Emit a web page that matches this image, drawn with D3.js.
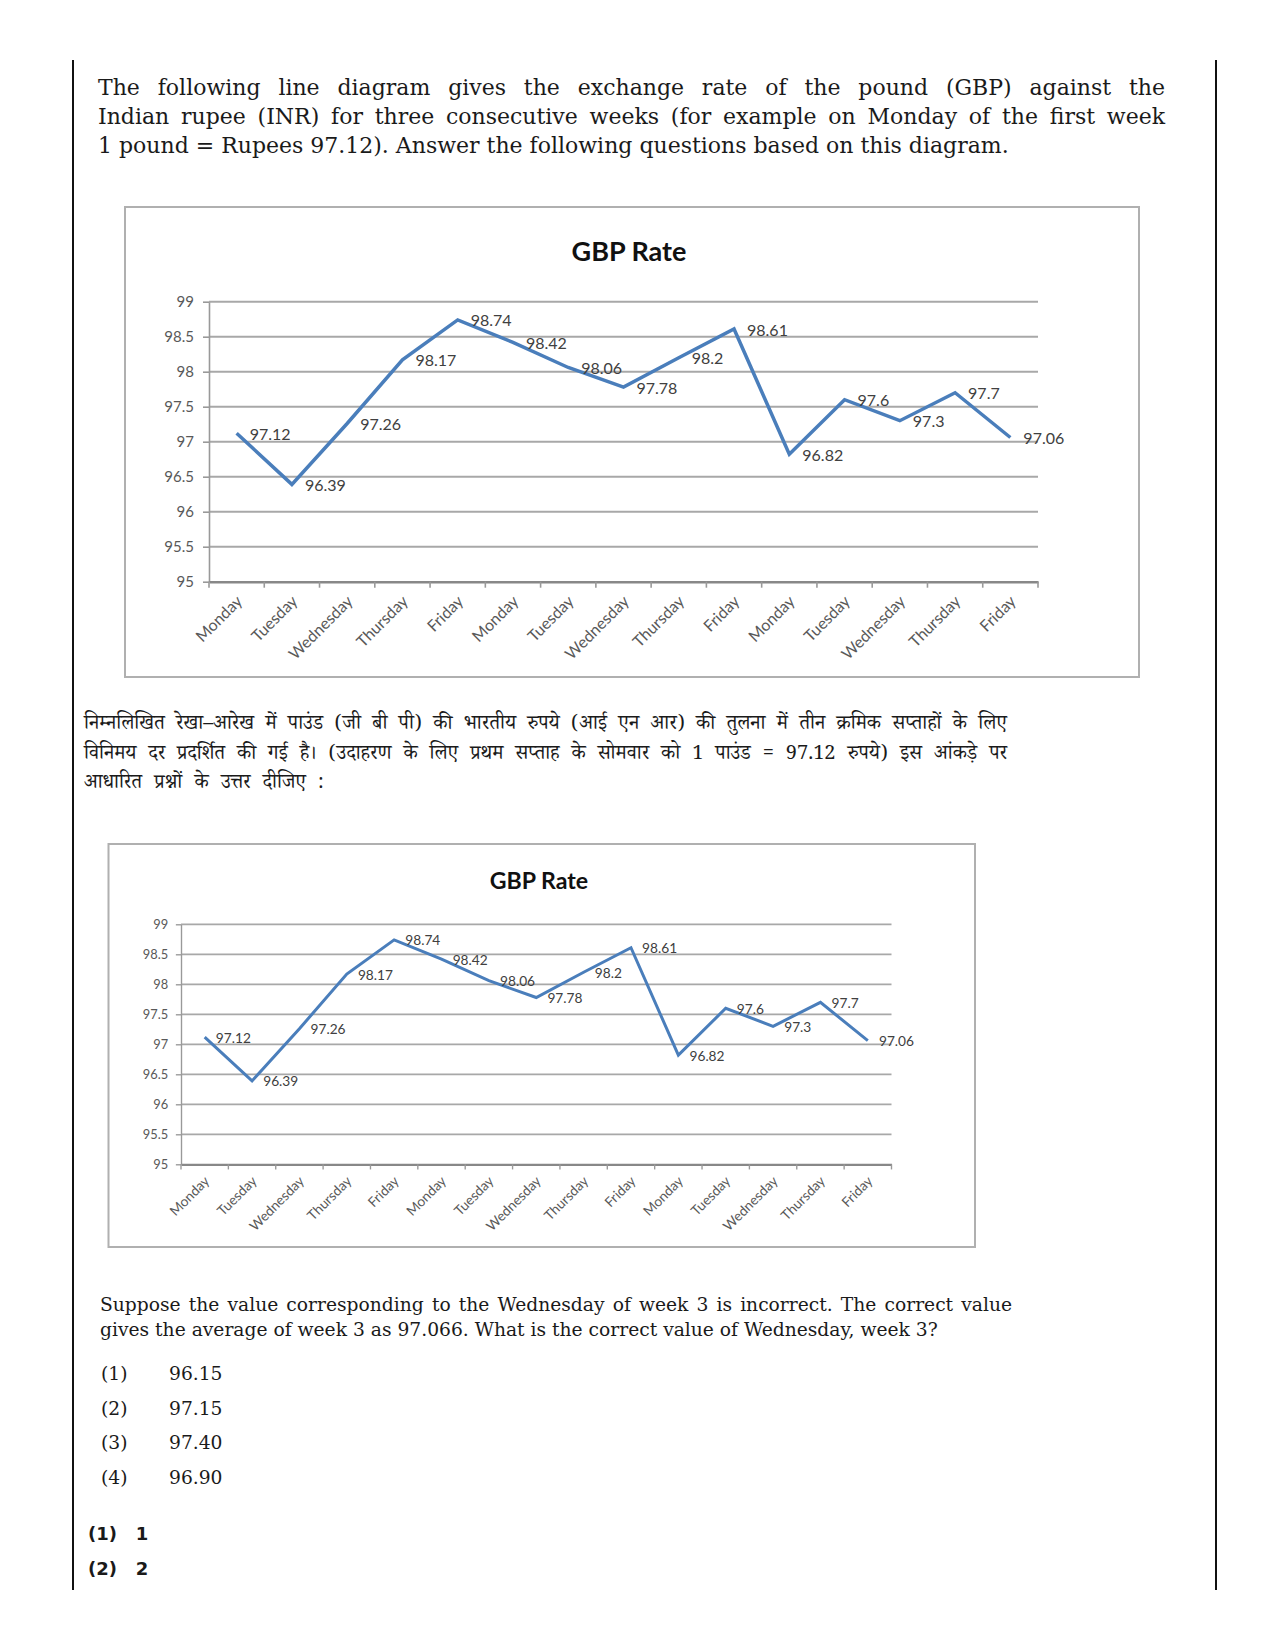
<!DOCTYPE html>
<html><head><meta charset="utf-8">
<script src="https://cdn.jsdelivr.net/npm/d3@7/dist/d3.min.js"></script>
<style>
body{margin:0;background:#fff;}
#page{position:relative;width:1275px;height:1651px;overflow:hidden;background:#fff;}
#page svg{position:absolute;left:0;top:0;}
.vline{position:absolute;width:1.5px;background:#111;}
.ln{position:absolute;white-space:nowrap;color:#1a1a1a;}
.j{text-align:justify;text-align-last:justify;}
.serif{font-family:"DejaVu Serif","Liberation Serif",serif;}
.hindi{font-family:"Noto Serif Devanagari","Noto Sans Devanagari","Lohit Devanagari","FreeSerif","Noto Sans",sans-serif;}
.wide{word-spacing:7px;}
.ans{font-family:"DejaVu Sans",sans-serif;font-weight:bold;}
</style>
</head><body><div id="page"></div>
<script>
// ---------- data ----------
const categories = ["Monday","Tuesday","Wednesday","Thursday","Friday",
                    "Monday","Tuesday","Wednesday","Thursday","Friday",
                    "Monday","Tuesday","Wednesday","Thursday","Friday"];
const values = [97.12, 96.39, 97.26, 98.17, 98.74,
                98.42, 98.06, 97.78, 98.2, 98.61,
                96.82, 97.6, 97.3, 97.7, 97.06];
const yTicks = [95, 95.5, 96, 96.5, 97, 97.5, 98, 98.5, 99];
const chartTitle = "GBP Rate";

const introLines = [
  "The following line diagram gives the exchange rate of the pound (GBP) against the",
  "Indian rupee (INR) for three consecutive weeks (for example on Monday of the first week",
  "1 pound = Rupees 97.12). Answer the following questions based on this diagram."
];
const hindiLines = [
  "निम्नलिखित रेखा–आरेख में पाउंड (जी बी पी) की भारतीय रुपये (आई एन आर) की तुलना में तीन क्रमिक सप्ताहों के लिए",
  "विनिमय दर प्रदर्शित की गई है। (उदाहरण के लिए प्रथम सप्ताह के सोमवार को 1 पाउंड = 97.12 रुपये) इस आंकड़े पर",
  "आधारित प्रश्नों के उत्तर दीजिए :"
];
const questionLines = [
  "Suppose the value corresponding to the Wednesday of week 3 is incorrect. The correct value",
  "gives the average of week 3 as 97.066. What is the correct value of Wednesday, week 3?"
];
const optionLabels = ["(1)","(2)","(3)","(4)"];
const optionValues = ["96.15","97.15","97.40","96.90"];
const answerLabels = ["(1)","(2)"];
const answerValues = ["1","2"];

// ---------- page ----------
const page = d3.select("#page");
[[72,60,1530],[1215,60,1530]].forEach(([x,y,h])=>{
  page.append("div").attr("class","vline").style("left",x+"px").style("top",y+"px").style("height",h+"px");
});

function addLines(lines, opts){
  lines.forEach((t,i)=>{
    const justify = i < lines.length-1;
    const d = page.append("div").attr("class","ln "+opts.cls+(justify?" j":(opts.lastCls||"")))
      .style("left",opts.x+"px").style("top",(opts.y0+i*opts.dy - opts.lh/2)+"px")
      .style("font-size",opts.fs+"px").style("line-height",opts.lh+"px")
      .text(t);
    if(justify) d.style("width",opts.w+"px").style("white-space","normal");
  });
}
addLines(introLines,{cls:"serif",x:98,y0:88,dy:29.2,fs:22,lh:26,w:1067});
addLines(hindiLines,{cls:"hindi",x:84,y0:726,dy:29.5,fs:20,lh:26,w:923,lastCls:" wide"});
addLines(questionLines,{cls:"serif",x:100,y0:1304,dy:25.5,fs:18.7,lh:23,w:912});

optionLabels.forEach((l,i)=>{
  const y = 1374 + i*34.7 - 12;
  page.append("div").attr("class","ln serif").style("left","101px").style("top",y+"px")
    .style("font-size","18.7px").style("line-height","24px").text(l);
  page.append("div").attr("class","ln serif").style("left","169px").style("top",y+"px")
    .style("font-size","18.7px").style("line-height","24px").text(optionValues[i]);
});
answerLabels.forEach((l,i)=>{
  const y = 1534 + i*35 - 11;
  page.append("div").attr("class","ln ans").style("left","88px").style("top",y+"px")
    .style("font-size","18px").style("line-height","22px").style("white-space","pre")
    .text(l+"   "+answerValues[i]);
});

// ---------- charts ----------
const svg = page.append("svg").attr("width",1275).attr("height",1651);

function drawChart(cfg){
  const k = cfg.k;
  const g = svg.append("g");
  g.append("rect").attr("x",cfg.box[0]).attr("y",cfg.box[1])
    .attr("width",cfg.box[2]).attr("height",cfg.box[3])
    .attr("fill","#fff").attr("stroke","#b0b0b0").attr("stroke-width",2);

  g.append("text").attr("x",cfg.title[0]).attr("y",cfg.title[1])
    .attr("text-anchor","middle").attr("dominant-baseline","central")
    .attr("font-family","Lato").attr("font-weight","bold").attr("font-size",27*k)
    .attr("fill","#111").text(chartTitle);

  const x = d3.scaleBand().domain(d3.range(categories.length)).range([cfg.left,cfg.right]).padding(0);
  const y = d3.scaleLinear().domain([yTicks[0], yTicks[yTicks.length-1]]).range([cfg.bottom,cfg.top]);
  const cx = i => x(i) + x.bandwidth()/2;

  // gridlines
  g.append("g").selectAll("line").data(yTicks.slice(1)).join("line")
    .attr("x1",cfg.left).attr("x2",cfg.right)
    .attr("y1",d=>y(d)).attr("y2",d=>y(d))
    .attr("stroke","#a8a8a8").attr("stroke-width",2*k);

  // y axis
  const ya = g.append("g").attr("transform",`translate(${cfg.left},0)`)
    .call(d3.axisLeft(y).tickValues(yTicks).tickSize(6*k).tickPadding(9*k).tickSizeOuter(0).tickFormat(d=>String(d)));
  ya.select(".domain").attr("stroke","#999").attr("stroke-width",1.6*k);
  ya.selectAll(".tick line").attr("stroke","#999").attr("stroke-width",1.6*k);
  ya.selectAll("text").attr("font-family","Lato").attr("font-size",15*k).attr("fill","#595959");

  // x axis
  const xa = g.append("g").attr("transform",`translate(0,${cfg.bottom})`)
    .call(d3.axisBottom(x).tickSize(0).tickSizeOuter(0).tickFormat(i=>categories[i]));
  xa.select(".domain").attr("stroke","#888").attr("stroke-width",2.6*k);
  xa.selectAll(".tick text")
    .attr("font-family","Lato").attr("font-size",16*k).attr("fill","#595959")
    .attr("text-anchor","end").attr("dy",null).attr("y",0)
    .attr("dominant-baseline","central")
    .attr("transform",`translate(${2*k},${16*k}) rotate(-45)`);
  // boundary tick marks
  xa.append("g").selectAll("line").data(d3.range(categories.length+1)).join("line")
    .attr("x1",i=> i<categories.length ? x(i) : cfg.right).attr("x2",i=> i<categories.length ? x(i) : cfg.right)
    .attr("y1",0).attr("y2",6*k).attr("stroke","#999").attr("stroke-width",1.6*k);

  // line
  const line = d3.line().x((d,i)=>cx(i)).y(d=>y(d));
  g.append("path").datum(values).attr("d",line)
    .attr("fill","none").attr("stroke","#4a7ebb").attr("stroke-width",3.5*k)
    .attr("stroke-linejoin","miter");

  // data labels
  g.append("g").selectAll("text").data(values).join("text")
    .attr("x",(d,i)=>cx(i)+13*k).attr("y",d=>y(d))
    .attr("dominant-baseline","central")
    .attr("font-family","Lato").attr("font-size",16*k).attr("fill","#404040")
    .text(d=>String(d));
}

drawChart({k:1, box:[125,207,1014,470], title:[629,250], left:209, right:1038, top:301.7, bottom:581.7});
drawChart({k:0.857, box:[108.5,844,866.5,403], title:[539,880], left:181, right:891.5, top:924.3, bottom:1164.3});
</script>
</body></html>
